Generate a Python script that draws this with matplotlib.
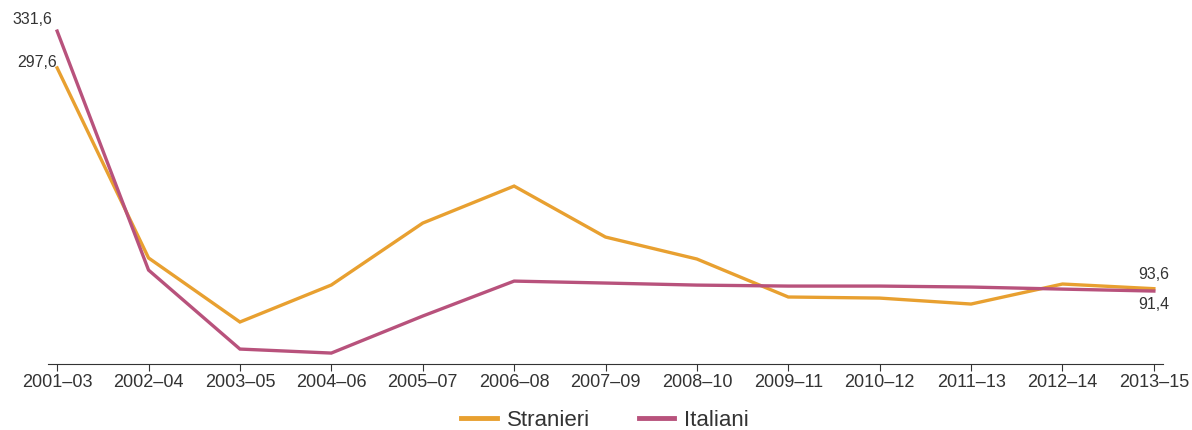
import matplotlib.pyplot as plt

plt.rcParams['font.family'] = ['Liberation Sans', 'DejaVu Sans']

periods = ["2001–03", "2002–04", "2003–05", "2004–06", "2005–07", "2006–08", "2007–09",
           "2008–10", "2009–11", "2010–12", "2011–13", "2012–14", "2013–15"]
stranieri = [297.6, 122.0, 62.8, 97.0, 154.2, 188.4, 141.3, 121.0, 85.9, 84.9, 79.4, 97.9, 93.6]
italiani = [331.6, 110.8, 37.8, 34.1, 68.3, 100.6, 98.8, 96.9, 96.0, 96.0, 95.1, 93.2, 91.4]

col_str = "#E8A030"
col_ita = "#B8527C"
txt = "#333333"

fig = plt.figure(figsize=(11.92, 4.30), dpi=100)
ax = fig.add_axes([48 / 1192, 66 / 430, (1163 - 48) / 1192, 342 / 430])

x = range(len(periods))
ax.plot(x, stranieri, color=col_str, lw=2.4, label="Stranieri", solid_joinstyle="miter")
ax.plot(x, italiani, color=col_ita, lw=2.4, label="Italiani", solid_joinstyle="miter")

ax.set_xlim(-0.1, 12.1)
ax.set_ylim(24, 340)

for s in ["top", "right", "left"]:
    ax.spines[s].set_visible(False)
ax.spines["bottom"].set_color(txt)
ax.set_yticks([])
ax.set_xticks(list(x))
ax.set_xticklabels(periods, fontsize=13, color=txt)
ax.tick_params(axis="x", length=5, color=txt, pad=2)

# value labels at the ends
ax.annotate("331,6", (0, italiani[0]), xytext=(-3.6, 8), textcoords="offset points",
            ha="right", va="center", fontsize=11.5, color=txt)
ax.annotate("297,6", (0, stranieri[0]), xytext=(0, 4), textcoords="offset points",
            ha="right", va="center", fontsize=11.5, color=txt)
ax.annotate("93,6", (12, stranieri[-1]), xytext=(0, 10.5), textcoords="offset points",
            ha="center", va="center", fontsize=11.5, color=txt)
ax.annotate("91,4", (12, italiani[-1]), xytext=(0, -10), textcoords="offset points",
            ha="center", va="center", fontsize=11.5, color=txt)

leg = fig.legend(loc="center", bbox_to_anchor=(605 / 1192, 1 - 420 / 430), ncol=2,
                 frameon=False, fontsize=16, handlelength=1.6, handletextpad=0.45,
                 columnspacing=2.2)
for t in leg.get_texts():
    t.set_color(txt)
for h in leg.get_lines():
    h.set_linewidth(3.5)

fig.savefig("out.png", dpi=100)
